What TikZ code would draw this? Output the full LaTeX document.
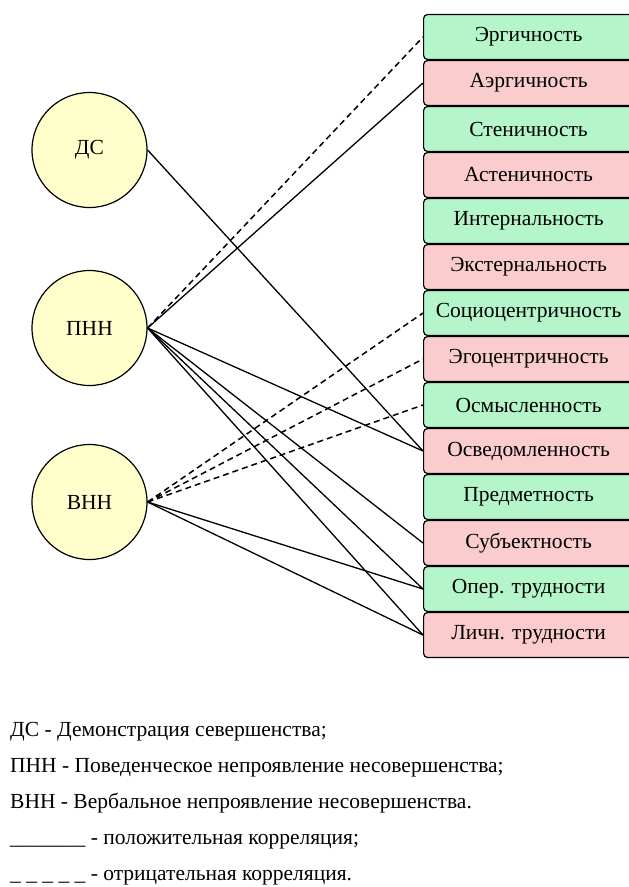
\documentclass[tikz,border=0pt]{standalone}
\usepackage{fontspec}
\setmainfont{Liberation Serif}
\definecolor{boxgreen}{RGB}{180,246,202}
\definecolor{boxpink}{RGB}{250,204,206}
\definecolor{circyellow}{RGB}{255,255,204}
\tikzset{
  trait/.style={draw=black,line width=1.2pt,rounded corners=4pt,minimum width=210pt,minimum height=45pt,inner sep=0pt,anchor=west,font=\fontsize{21.5}{26}\selectfont},
  factor/.style={circle,draw=black,line width=1.2pt,fill=circyellow,minimum size=115pt,inner sep=0pt,font=\fontsize{21.5}{26}\selectfont},
  legend/.style={anchor=base west,inner sep=0pt,font=\fontsize{21.5}{26}\selectfont},
  poscorr/.style={line width=1.3pt},
  negcorr/.style={line width=1.5pt,dash pattern=on 6pt off 4pt}
}

\begin{document}
\begin{tikzpicture}[x=1pt,y=-1pt]
\useasboundingbox (0,0) rectangle (629,887);
% Factors on the left
\node[factor] (ds) at (89.5,150) {ДС};
\node[factor] (pnn) at (89.5,328) {ПНН};
\node[factor] (vnn) at (89.5,502) {ВНН};
% Traits on the right
\node[trait,fill=boxgreen] (erg) at (423,37) {Эргичность};
\node[trait,fill=boxpink] (aerg) at (423,83) {Аэргичность};
\node[trait,fill=boxgreen] (sten) at (423,129) {Стеничность};
\node[trait,fill=boxpink] (asten) at (423,175) {Астеничность};
\node[trait,fill=boxgreen] (intern) at (423,221) {Интернальность};
\node[trait,fill=boxpink] (extern) at (423,267) {Экстернальность};
\node[trait,fill=boxgreen] (socio) at (423,313) {Социоцентричность};
\node[trait,fill=boxpink] (ego) at (423,359) {Эгоцентричность};
\node[trait,fill=boxgreen] (osm) at (423,405) {Осмысленность};
\node[trait,fill=boxpink] (osv) at (423,451) {Осведомленность};
\node[trait,fill=boxgreen] (pred) at (423,497) {Предметность};
\node[trait,fill=boxpink] (subj) at (423,543) {Субъектность};
\node[trait,fill=boxgreen] (oper) at (423,589) {Опер. трудности};
\node[trait,fill=boxpink] (lichn) at (423,635) {Личн. трудности};
% Correlations
\draw[poscorr] (ds.east) -- (osv.west);
\draw[negcorr] (pnn.east) -- (erg.west);
\draw[poscorr] (pnn.east) -- (aerg.west);
\draw[poscorr] (pnn.east) -- (osv.west);
\draw[poscorr] (pnn.east) -- (subj.west);
\draw[poscorr] (pnn.east) -- (oper.west);
\draw[poscorr] (pnn.east) -- (lichn.west);
\draw[negcorr] (vnn.east) -- (socio.west);
\draw[negcorr] (vnn.east) -- (ego.west);
\draw[negcorr] (vnn.east) -- (osm.west);
\draw[poscorr] (vnn.east) -- (oper.west);
\draw[poscorr] (vnn.east) -- (lichn.west);
% Legend
\node[legend] (leg1) at (10,736) {ДС - Демонстрация севершенства;};
\node[legend] (leg2) at (10,772) {ПНН - Поведенческое непроявление несовершенства;};
\node[legend] (leg3) at (10,808) {ВНН - Вербальное непроявление несовершенства.};
\node[legend] (leg4) at (10,844) {\_\_\_\_\_\_\_ - положительная корреляция;};
\node[legend] (leg5) at (10,880) {\_ \_ \_ \_ \_ - отрицательная корреляция.};
\end{tikzpicture}
\end{document}
